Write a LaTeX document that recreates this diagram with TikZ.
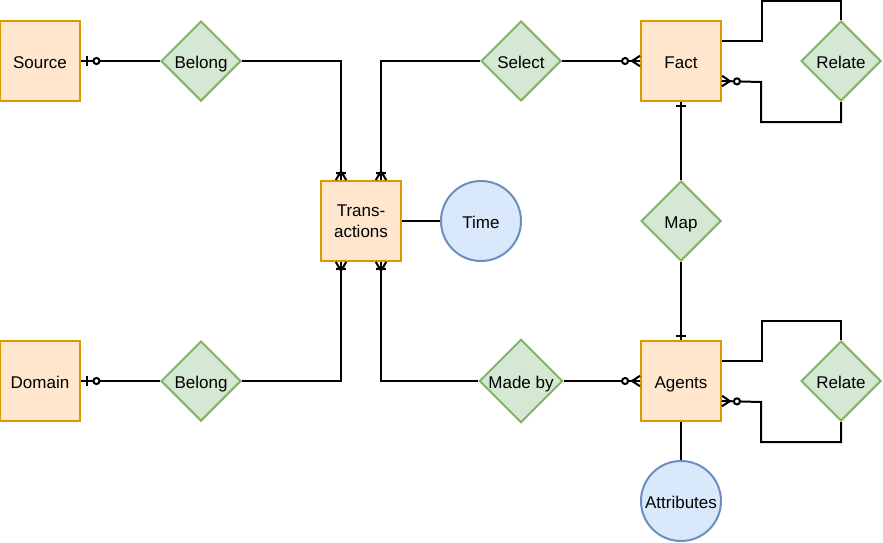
\documentclass[tikz,border=0pt]{standalone}
\usepackage{fontspec}
\setmainfont{Liberation Sans}
\usetikzlibrary{shapes.geometric,calc,arrows.meta}

% Crow's-foot notation tips (1px = 0.75pt)
\pgfdeclarearrow{
  name = ERzeromany,
  setup code = {
    \pgfarrowssettipend{0pt}
    \pgfarrowssetlineend{0pt}
    \pgfarrowssetbackend{-14pt}
    \pgfarrowssetvisualbackend{-14pt}
  },
  drawing code = {
    \pgfsetlinewidth{1.5pt}
    \pgfpathmoveto{\pgfpoint{0pt}{3.9pt}}
    \pgfpathlineto{\pgfpoint{-6pt}{0pt}}
    \pgfpathlineto{\pgfpoint{0pt}{-3.9pt}}
    \pgfusepathqstroke
    \pgfpathcircle{\pgfpoint{-11.2pt}{0pt}}{2.3pt}
    \pgfsetfillcolor{white}
    \pgfusepathqfillstroke
  }
}
\pgfdeclarearrow{
  name = ERonemany,
  setup code = {
    \pgfarrowssettipend{0pt}
    \pgfarrowssetlineend{0pt}
    \pgfarrowssetbackend{-7pt}
    \pgfarrowssetvisualbackend{-7pt}
  },
  drawing code = {
    \pgfsetlinewidth{1.5pt}
    \pgfpathmoveto{\pgfpoint{0pt}{3.9pt}}
    \pgfpathlineto{\pgfpoint{-6.5pt}{0pt}}
    \pgfpathlineto{\pgfpoint{0pt}{-3.9pt}}
    \pgfpathmoveto{\pgfpoint{-5.2pt}{3.6pt}}
    \pgfpathlineto{\pgfpoint{-5.2pt}{-3.6pt}}
    \pgfusepathqstroke
  }
}
\pgfdeclarearrow{
  name = ERzeroone,
  setup code = {
    \pgfarrowssettipend{0pt}
    \pgfarrowssetlineend{0pt}
    \pgfarrowssetbackend{-14pt}
    \pgfarrowssetvisualbackend{-14pt}
  },
  drawing code = {
    \pgfsetlinewidth{1.5pt}
    \pgfpathmoveto{\pgfpoint{-4.5pt}{3.75pt}}
    \pgfpathlineto{\pgfpoint{-4.5pt}{-3.75pt}}
    \pgfusepathqstroke
    \pgfpathcircle{\pgfpoint{-11.6pt}{0pt}}{2.3pt}
    \pgfsetfillcolor{white}
    \pgfusepathqfillstroke
  }
}
\pgfdeclarearrow{
  name = ERone,
  setup code = {
    \pgfarrowssettipend{0pt}
    \pgfarrowssetlineend{0pt}
    \pgfarrowssetbackend{-4pt}
    \pgfarrowssetvisualbackend{-4pt}
  },
  drawing code = {
    \pgfsetlinewidth{1.5pt}
    \pgfpathmoveto{\pgfpoint{-3.3pt}{3.75pt}}
    \pgfpathlineto{\pgfpoint{-3.3pt}{-3.75pt}}
    \pgfusepathqstroke
  }
}

\definecolor{entfill}{HTML}{FFE6CC}
\definecolor{entdraw}{HTML}{D79B00}
\definecolor{relfill}{HTML}{D5E8D4}
\definecolor{reldraw}{HTML}{82B366}
\definecolor{attfill}{HTML}{DAE8FC}
\definecolor{attdraw}{HTML}{6C8EBF}

\begin{document}
\begin{tikzpicture}[
  x=0.75pt, y=-0.75pt,
  every node/.style={font=\fontsize{12.75pt}{15.75pt}\selectfont, inner sep=0pt, align=center, line width=1.5pt},
  oneline/.style={text height=12.6pt, text depth=1pt},
  entity/.style={rectangle, draw=entdraw, fill=entfill, minimum width=60pt, minimum height=60pt},
  relation/.style={diamond, aspect=1, draw=reldraw, fill=relfill, minimum width=60pt, minimum height=60pt, oneline},
  attrib/.style={circle, draw=attdraw, fill=attfill, minimum size=60pt, oneline},
  conn/.style={draw=black, line width=1.5pt},
]
\useasboundingbox (0,0) rectangle (883,543);

% entities
\node[entity, oneline] (src) at (40,61) {Source};
\node[entity, oneline] (dom) at (40,381) {Domain};
\node[entity] (trans) at (361,221) {Trans-\\actions};
\node[entity, oneline] (fact) at (681,61) {Fact};
\node[entity, oneline] (agents) at (681,381) {Agents};

% relationships
\node[relation] (bel1) at (201,61) {Belong};
\node[relation] (bel2) at (201,381) {Belong};
\node[relation] (sel) at (521,61) {Select};
\node[relation] (made) at (521,381) {Made by};
\node[relation] (map) at (681,221) {Map};
\node[relation] (rel1) at (841,61) {Relate};
\node[relation] (rel2) at (841,381) {Relate};

% attributes
\node[attrib] (time) at (481,221) {Time};
\node[attrib] (attr) at (681,501) {Attributes};

% connectors
\draw[conn, {ERzeroone}-] (src.east) -- (bel1.west);
\draw[conn, {ERzeroone}-] (dom.east) -- (bel2.west);
\draw[conn, -{ERonemany}] (bel1.east) -| ($(trans.north)+(-20,0)$);
\draw[conn, -{ERonemany}] (sel.west) -| ($(trans.north)+(20,0)$);
\draw[conn, -{ERonemany}] (bel2.east) -| ($(trans.south)+(-20,0)$);
\draw[conn, -{ERonemany}] (made.west) -| ($(trans.south)+(20,0)$);
\draw[conn] (trans.east) -- (time.west);
\draw[conn, -{ERzeromany}] (sel.east) -- (fact.west);
\draw[conn, -{ERzeromany}] (made.east) -- (agents.west);
\draw[conn, {ERone}-] (fact.south) -- (map.north);
\draw[conn, -{ERone}] (map.south) -- (agents.north);
\draw[conn] (agents.south) -- (attr.north);

% self relations
\draw[conn] ($(fact.east)+(0,-20)$) -- ++(40,0) -- ++(0,-40) -| (rel1.north);
\draw[conn, -{ERzeromany}] (rel1.south) -- ++(0,20) -- ++(-80,0) -- ++(0,-40) -- ($(fact.east)+(0,20)$);
\draw[conn] ($(agents.east)+(0,-20)$) -- ++(40,0) -- ++(0,-40) -| (rel2.north);
\draw[conn, -{ERzeromany}] (rel2.south) -- ++(0,20) -- ++(-80,0) -- ++(0,-40) -- ($(agents.east)+(0,20)$);
\end{tikzpicture}
\end{document}
